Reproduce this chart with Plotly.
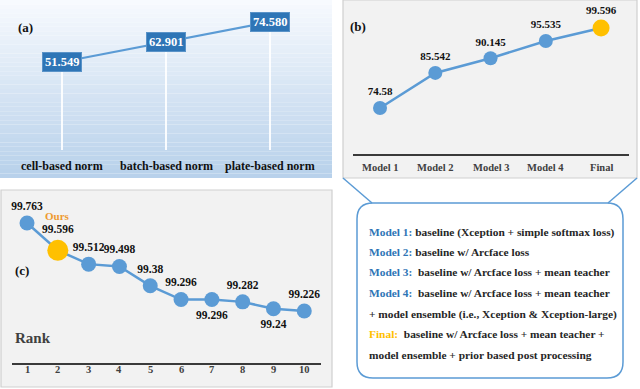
import plotly.graph_objects as go

# ---- data ----
norm_names = ["cell-based norm", "batch-based norm", "plate-based norm"]
norm_scores = [51.549, 62.901, 74.580]

model_names = ["Model 1", "Model 2", "Model 3", "Model 4", "Final"]
model_scores = [74.58, 85.542, 90.145, 95.535, 99.596]

ranks = [1, 2, 3, 4, 5, 6, 7, 8, 9, 10]
rank_scores = [99.763, 99.596, 99.512, 99.498, 99.38, 99.296, 99.296, 99.282, 99.24, 99.226]
ours_rank = 2

legend_keys = ["Model 1:", "Model 2:", "Model 3:", "Model 4:", "", "Final:", ""]
legend_text = [
    "baseline (Xception + simple softmax loss)",
    "baseline w/ Arcface loss",
    " baseline w/ Arcface loss + mean teacher",
    " baseline w/ Arcface loss + mean teacher",
    "+ model ensemble (i.e., Xception &amp; Xception-large)",
    " baseline w/ Arcface loss + mean teacher +",
    "model ensemble + prior based post processing",
]

W, H = 640, 389
FONT = "Liberation Serif"
BLUE = "#5b9bd5"
DARK_BLUE = "#2e75b6"
GOLD = "#ffc000"
TXT = "#111111"


def px(x):
    return x / W


def py(y):
    return 1 - y / H


fig = go.Figure()
shapes = []
ann = []

# ---- panel (a) background gradient ----
top_c = (247, 250, 254)
bot_c = (184, 209, 235)
n = 40
for i in range(n):
    t = i / (n - 1)
    c = tuple(int(top_c[k] + (bot_c[k] - top_c[k]) * t) for k in range(3))
    shapes.append(dict(type="rect", xref="paper", yref="paper",
                       x0=px(0), x1=px(332), y0=py(178 * (i + 1) / n), y1=py(178 * i / n),
                       fillcolor="rgb(%d,%d,%d)" % c, line=dict(width=0), layer="below"))

# panel (b) and (c) grey boxes
for (x0, y0, x1, y1) in [(343, 0, 637, 178), (1, 190, 332, 387)]:
    shapes.append(dict(type="rect", xref="paper", yref="paper",
                       x0=px(x0), x1=px(x1), y0=py(y1), y1=py(y0),
                       fillcolor="#f2f2f2", line=dict(color="#cfcfcf", width=1.2), layer="below"))

# ---- panel (a) ----
a_yr = [-15.1, 87.18]
a_bottom = a_yr[1] - 150 / 178 * (a_yr[1] - a_yr[0])
for i, v in enumerate(norm_scores):
    shapes.append(dict(type="line", xref="x", yref="y", x0=i, x1=i, y0=v, y1=a_bottom,
                       line=dict(color="rgba(255,255,255,0.9)", width=2), layer="below"))
fig.add_trace(go.Scatter(x=list(range(3)), y=norm_scores, mode="lines",
                         line=dict(color=BLUE, width=2), xaxis="x", yaxis="y",
                         hoverinfo="skip"))
for i, v in enumerate(norm_scores):
    ann.append(dict(x=i, y=v, xref="x", yref="y", text="<b>%.3f</b>" % v, showarrow=False,
                    font=dict(family=FONT, size=12.5, color="white"), bgcolor=DARK_BLUE,
                    borderpad=2, bordercolor="#5a93c8", borderwidth=1))
    ann.append(dict(x=i, y=py(166), xref="x", yref="paper", text="<b>%s</b>" % norm_names[i],
                    showarrow=False, font=dict(family=FONT, size=12, color=TXT)))
ann.append(dict(x=px(16), y=py(18), xref="paper", yref="paper", text="<b>(a)</b>",
                showarrow=False, font=dict(family=FONT, size=13, color=TXT)))

# ---- panel (b) ----
b_colors = [BLUE] * (len(model_scores) - 1) + [GOLD]
b_sizes = [14] * (len(model_scores) - 1) + [17]
fig.add_trace(go.Scatter(x=list(range(5)), y=model_scores, mode="lines+markers+text",
                         line=dict(color=BLUE, width=2.5),
                         marker=dict(color=b_colors, size=b_sizes, opacity=1, line=dict(width=0)),
                         text=["<b>%s</b>" % v for v in model_scores], textposition="top center",
                         textfont=dict(family=FONT, size=11, color=TXT),
                         xaxis="x2", yaxis="y2", hoverinfo="skip"))
for i, m in enumerate(model_names):
    ann.append(dict(x=i, y=py(167), xref="x2", yref="paper", text="<b>%s</b>" % m,
                    showarrow=False, font=dict(family=FONT, size=10.5, color="#404040")))
shapes.append(dict(type="line", xref="paper", yref="paper", x0=px(353), x1=px(629),
                   y0=py(155), y1=py(155), line=dict(color="#3a3a3a", width=2)))
ann.append(dict(x=px(358), y=py(17), xref="paper", yref="paper", text="<b>(b)</b>",
                showarrow=False, font=dict(family=FONT, size=13, color=TXT)))

# ---- panel (c) ----
c_colors = [GOLD if r == ours_rank else BLUE for r in ranks]
c_sizes = [21 if r == ours_rank else 15 for r in ranks]
c_pos = ["top center"] * len(ranks)
c_pos[6] = "bottom center"
c_pos[8] = "bottom center"
fig.add_trace(go.Scatter(x=ranks, y=rank_scores, mode="lines+markers+text",
                         line=dict(color=BLUE, width=2.5),
                         marker=dict(color=c_colors, size=c_sizes, opacity=1, line=dict(width=0)),
                         text=["<b>%s</b>" % v for v in rank_scores], textposition=c_pos,
                         textfont=dict(family=FONT, size=11.5, color=TXT),
                         xaxis="x3", yaxis="y3", hoverinfo="skip"))
for r in ranks:
    ann.append(dict(x=r, y=py(377), xref="x3", yref="paper", text="<b>%d</b>" % r,
                    showarrow=False, font=dict(family=FONT, size=10.5, color="#404040")))
shapes.append(dict(type="line", xref="paper", yref="paper", x0=px(12), x1=px(321),
                   y0=py(364), y1=py(364), line=dict(color="#3a3a3a", width=2)))
ann.append(dict(x=px(13), y=py(348), xref="paper", yref="paper", xanchor="left",
                text="<b>Rank</b>", showarrow=False, font=dict(family=FONT, size=15, color="#404040")))
ann.append(dict(x=ours_rank, y=py(216), xref="x3", yref="paper", text="<b>Ours</b>",
                showarrow=False, font=dict(family=FONT, size=11, color="#ee9a30")))
ann.append(dict(x=px(13), y=py(280), xref="paper", yref="paper", text="<b>(c)</b>",
                showarrow=False, font=dict(family=FONT, size=13, color=TXT)))

# ---- callout box ----
bx0, by0, bx1, by1, r = 357, 203, 623, 378, 16
path = ("M {a},{b} L {c},{b} Q {d},{b} {d},{e} L {d},{f} Q {d},{g} {c},{g} "
        "L {a},{g} Q {h},{g} {h},{f} L {h},{e} Q {h},{b} {a},{b} Z").format(
    a=px(bx0 + r), b=py(by0), c=px(bx1 - r), d=px(bx1), e=py(by0 + r),
    f=py(by1 - r), g=py(by1), h=px(bx0))
shapes.append(dict(type="path", xref="paper", yref="paper", path=path,
                   line=dict(color=BLUE, width=1.5), fillcolor="white"))
shapes.append(dict(type="line", xref="paper", yref="paper", x0=px(343), y0=py(178),
                   x1=px(372), y1=py(203), line=dict(color=BLUE, width=1.5)))
shapes.append(dict(type="line", xref="paper", yref="paper", x0=px(637), y0=py(178),
                   x1=px(608), y1=py(203), line=dict(color=BLUE, width=1.5)))
line_y = [232, 252, 272, 293, 314, 334, 355]
for k, t, yy in zip(legend_keys, legend_text, line_y):
    kc = GOLD if k.startswith("Final") else DARK_BLUE
    s = "<b>"
    if k:
        s += "<span style='color:%s'>%s</span> " % (kc, k)
    s += t + "</b>"
    ann.append(dict(x=px(367), y=py(yy), xref="paper", yref="paper", xanchor="left",
                    yanchor="middle", text=s, showarrow=False,
                    font=dict(family=FONT, size=11.4, color="#262626")))

hidden = dict(visible=False, fixedrange=True)
fig.update_layout(
    width=W, height=H, margin=dict(l=0, r=0, t=0, b=0),
    paper_bgcolor="white", plot_bgcolor="rgba(0,0,0,0)", showlegend=False,
    xaxis=dict(domain=[0, px(332)], range=[-0.596, 2.596], **hidden),
    yaxis=dict(domain=[py(178), 1], range=a_yr, **hidden),
    xaxis2=dict(domain=[px(343), px(637)], range=[-0.67, 4.65], anchor="y2", **hidden),
    yaxis2=dict(domain=[py(178), 1], range=[52.7, 108.33], anchor="x2", **hidden),
    xaxis3=dict(domain=[0, px(332)], range=[0.123, 10.9], anchor="y3", **hidden),
    yaxis3=dict(domain=[py(387), py(190)], range=[98.763, 99.964], anchor="x3", **hidden),
    shapes=shapes, annotations=ann,
)

fig.write_html("out.html", config={"displayModeBar": False},
               post_script="document.body.style.margin='0';")
